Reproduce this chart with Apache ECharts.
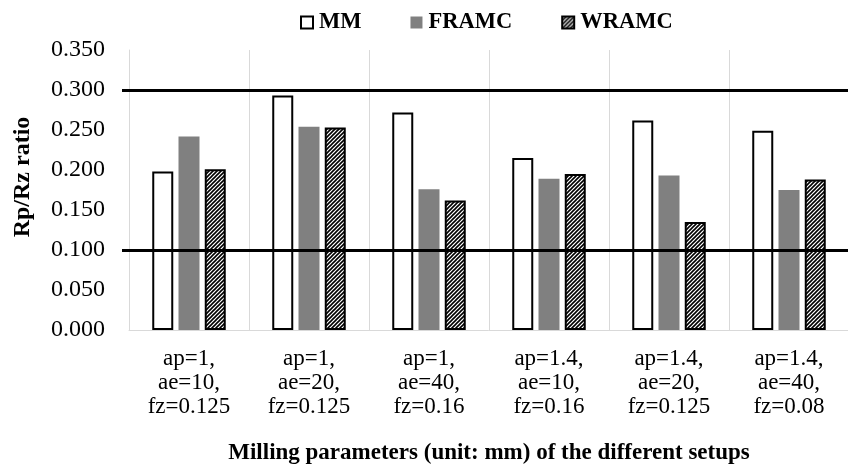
<!DOCTYPE html>
<html>
<head>
<meta charset="utf-8">
<script src="https://cdn.jsdelivr.net/npm/echarts@6/dist/echarts.min.js"></script>
<style>html,body{margin:0;padding:0;background:#fff;}#c{width:848px;height:465px;}</style>
</head>
<body>
<div id="c"></div>
<script>
const categories = [
  'ap=1,\nae=10,\nfz=0.125',
  'ap=1,\nae=20,\nfz=0.125',
  'ap=1,\nae=40,\nfz=0.16',
  'ap=1.4,\nae=10,\nfz=0.16',
  'ap=1.4,\nae=20,\nfz=0.125',
  'ap=1.4,\nae=40,\nfz=0.08'
];
const mm    = [0.198, 0.293, 0.272, 0.215, 0.262, 0.249];
const framc = [0.242, 0.254, 0.176, 0.189, 0.193, 0.175];
const wramc = [0.201, 0.253, 0.162, 0.195, 0.135, 0.188];
const refLines = [0.1, 0.3];
const yMin = 0, yMax = 0.35, yStep = 0.05;

const pc = document.createElement('canvas');
pc.width = 4; pc.height = 4;
const g = pc.getContext('2d');
g.fillStyle = '#fff'; g.fillRect(0, 0, 4, 4);
g.strokeStyle = '#000'; g.lineWidth = 1.6;
g.beginPath();
g.moveTo(0, 4); g.lineTo(4, 0);
g.moveTo(-1, 1); g.lineTo(1, -1);
g.moveTo(3, 5); g.lineTo(5, 3);
g.stroke();
const hatch = { image: pc, repeat: 'repeat' };

const FONT = 'Liberation Serif';
const chart = echarts.init(document.getElementById('c'), null, { renderer: 'canvas' });
chart.setOption({
  animation: false,
  backgroundColor: '#fff',
  textStyle: { fontFamily: FONT, color: '#000' },
  legend: {
    left: 295, top: 6,
    itemWidth: 12, itemHeight: 12, itemGap: 49,
    textStyle: { fontFamily: FONT, fontWeight: 'bold', fontSize: 22.5, color: '#000', padding: [0, 0, 0, 1] },
    data: [
      { name: 'MM', icon: 'rect' },
      { name: 'FRAMC', icon: 'rect' },
      { name: 'WRAMC', icon: 'rect' }
    ]
  },
  grid: { left: 129, top: 50, width: 720, height: 280, containLabel: false, outerBoundsMode: 'none' },
  xAxis: {
    type: 'category',
    data: categories,
    axisLine: { show: true, lineStyle: { color: '#d9d9d9', width: 1 } },
    axisTick: { show: false },
    splitLine: { show: true, interval: 0, lineStyle: { color: '#d9d9d9', width: 1 } },
    axisLabel: { interval: 0, fontFamily: FONT, fontSize: 23, lineHeight: 24, color: '#000', margin: 17 },
    name: 'Milling parameters (unit: mm) of the different setups',
    nameLocation: 'middle',
    nameGap: 112,
    nameTextStyle: { fontFamily: FONT, fontWeight: 'bold', fontSize: 23, color: '#000' }
  },
  yAxis: {
    type: 'value',
    min: yMin, max: yMax, interval: yStep,
    axisLine: { show: true, lineStyle: { color: '#d9d9d9', width: 1 } },
    axisTick: { show: true, customValues: refLines, length: 7, lineStyle: { color: '#000', width: 3 } },
    splitLine: { show: true, lineStyle: { color: '#d9d9d9', width: 1 } },
    axisLabel: { fontFamily: FONT, fontSize: 24, color: '#000', margin: 24, formatter: v => v.toFixed(3) },
    name: 'Rp/Rz ratio',
    nameLocation: 'middle',
    nameGap: 94,
    nameTextStyle: { fontFamily: FONT, fontWeight: 'bold', fontSize: 24, color: '#000', padding: [0, 0, 0, 26] }
  },
  series: [
    {
      name: 'MM', type: 'bar', data: mm, barWidth: 21, barGap: '25%',
      itemStyle: { color: '#fff', borderColor: '#000', borderWidth: 2 },
      markLine: {
        silent: true, symbol: 'none', label: { show: false },
        lineStyle: { color: '#000', width: 3, type: 'solid' },
        data: refLines.map(v => ({ yAxis: v }))
      },
      z: 2
    },
    {
      name: 'FRAMC', type: 'bar', data: framc, barWidth: 21, barGap: '25%',
      itemStyle: { color: '#808080' }
    },
    {
      name: 'WRAMC', type: 'bar', data: wramc, barWidth: 21, barGap: '25%',
      itemStyle: { color: hatch, borderColor: '#000', borderWidth: 2 }
    }
  ]
});
</script>
</body>
</html>
